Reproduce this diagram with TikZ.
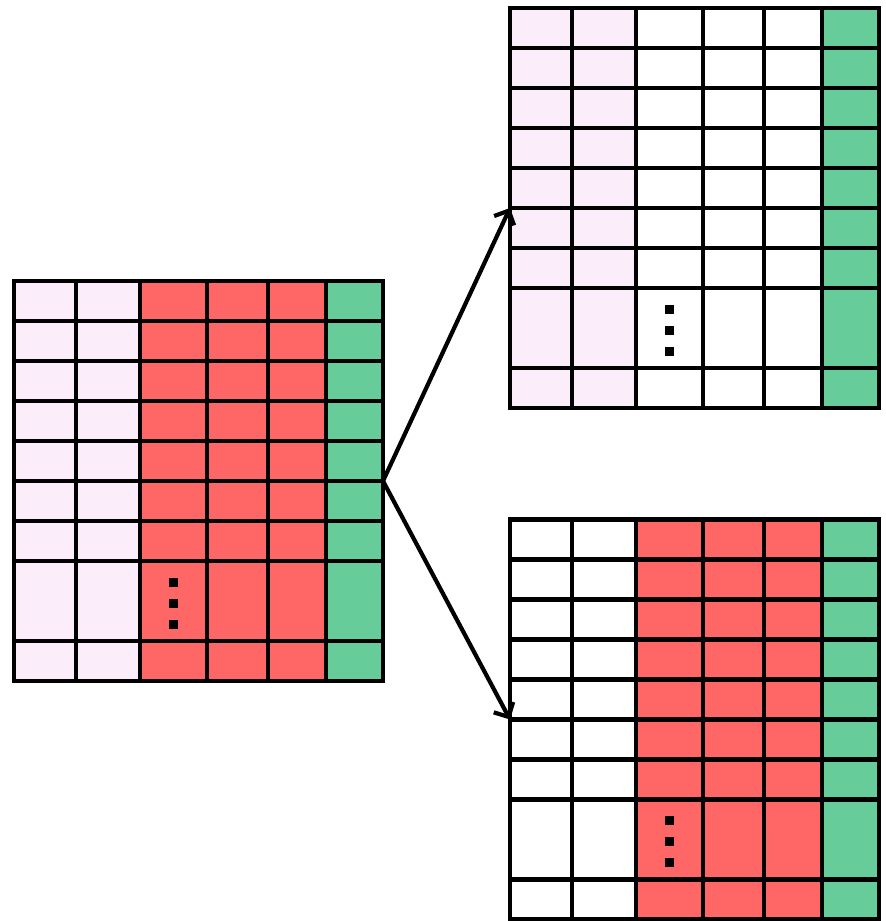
\documentclass[tikz,border=0pt]{standalone}
\usetikzlibrary{arrows.meta}
\definecolor{pinkc}{HTML}{FBEEFA}
\definecolor{redc}{HTML}{FF6666}
\definecolor{greenc}{HTML}{66CC99}
\tikzset{
  gridline/.style={line width=4.6pt},
  gridframe/.style={draw, line width=4.6pt, minimum width=369pt, minimum height=400pt, inner sep=0pt, outer sep=0pt, anchor=north west},
  link/.style={line width=4.2pt, -{Straight Barb[length=11pt,width=22pt]}}
}
\newcommand\mygrid[5]{%
  \begin{scope}[shift={(#2,-#3)}]
    \fill[#4] (0,0) rectangle (126,-400);
    \fill[#5] (126,0) rectangle (312,-400);
    \fill[greenc] (312,0) rectangle (369,-400);
    \foreach \x in {62,126,193,254,312} \draw[gridline] (\x,0) -- (\x,-400);
    \foreach \y in {40,80,120,160,200,240,280,360} \draw[gridline] (0,-\y) -- (369,-\y);
    \foreach \y in {301,322,343} \fill (154.5,-\y+4.5) rectangle ++(9,-9);
    \node[gridframe] (#1) at (0,0) {};
  \end{scope}}
\begin{document}
\begin{tikzpicture}[x=1pt,y=1pt]
  \useasboundingbox (0,0) rectangle (886,-921);
  \mygrid{L}{14}{281}{pinkc}{redc}
  \mygrid{T}{510}{8}{pinkc}{white}
  \mygrid{B}{510}{519.5}{white}{redc}
  \draw[link] (L.east) -- (T.west);
  \draw[link] (L.east) -- (B.west);
\end{tikzpicture}
\end{document}
